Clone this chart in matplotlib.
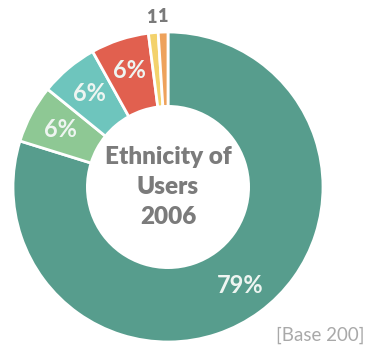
import numpy as np
import matplotlib.pyplot as plt

# Ethnicity of users, 2006 (percent of base 200)
groups = ['Group A', 'Group B', 'Group C', 'Group D', 'Group E', 'Group F']
shares = [79, 6, 6, 6, 1, 1]
colors = ['#579d8d', '#8ec894', '#6ec5bd', '#e1604f', '#f3d26c', '#eea25c']

TEXT_FONT = ['Lato', 'DejaVu Sans']

fig = plt.figure(figsize=(3.67, 3.48), dpi=100)
ax = fig.add_axes([0, 0, 1, 1])

wedges, _ = ax.pie(shares, colors=colors, startangle=90, counterclock=False,
                   radius=1.0,
                   wedgeprops=dict(width=0.48, edgecolor='white', linewidth=2))

# labels: percentages inside the ring, tiny slices get a number above the ring
for w, v in zip(wedges, shares):
    mid = np.deg2rad((w.theta1 + w.theta2) / 2)
    if v >= 5:
        r = 0.79
        ax.text(r * np.cos(mid), r * np.sin(mid), f'{v}%', ha='center', va='center',
                fontsize=17, fontweight='bold', color='#eef5f1', family=TEXT_FONT)
    else:
        r = 1.1
        ax.text(r * np.cos(mid), r * np.sin(mid), str(v), ha='center', va='center',
                fontsize=13, fontweight='heavy', color='#7a7a7a', family=TEXT_FONT)

ax.text(0, 0, 'Ethnicity of\nUsers\n2006', ha='center', va='center',
        fontsize=17.5, fontweight='heavy', color='#7b7b7b', linespacing=1.45,
        family=TEXT_FONT)

ax.text(1.27, -0.955, '[Base 200]', ha='right', va='center',
        fontsize=13.5, color='#a9a9a9', family=TEXT_FONT)

ax.set_xlim(-168 / 155, (367 - 168) / 155)
ax.set_ylim(-(348 - 187) / 155, 187 / 155)
ax.set_aspect('equal')
ax.axis('off')

plt.savefig('out.png', dpi=100, facecolor='white')
